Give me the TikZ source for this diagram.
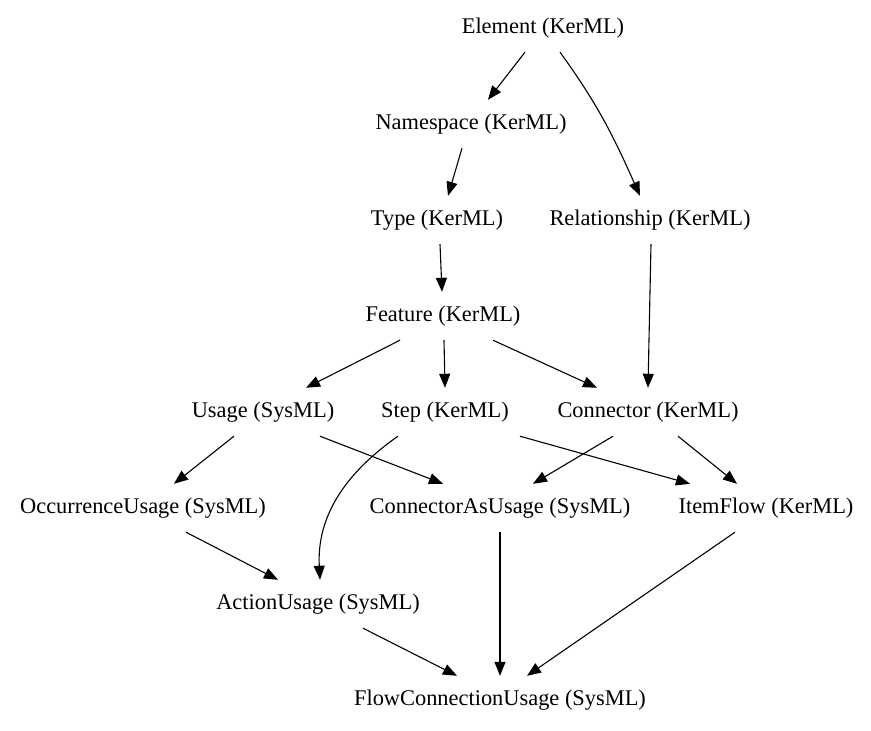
\documentclass[tikz,border=0pt]{standalone}
\usepackage{fontspec}
\setmainfont{Liberation Serif}
\usetikzlibrary{arrows.meta}
\begin{document}
\begin{tikzpicture}[x=1pt,y=-1pt,
  cls/.style={inner xsep=6pt,inner ysep=0pt,minimum height=48pt,font=\fontsize{22.4}{26}\selectfont},
  edge/.style={line width=1.1pt,-{Triangle[length=14pt,width=11pt]}}]
\useasboundingbox (0,0) rectangle (871,731);
\node[cls] (el) at (543,28) {Element (KerML)};
\node[cls] (ns) at (471,124) {Namespace (KerML)};
\node[cls] (ty) at (437,220) {Type (KerML)};
\node[cls] (rel) at (650,220) {Relationship (KerML)};
\node[cls] (fe) at (443,316) {Feature (KerML)};
\node[cls] (us) at (263,412) {Usage (SysML)};
\node[cls] (st) at (445,412) {Step (KerML)};
\node[cls] (co) at (648,412) {Connector (KerML)};
\node[cls] (oc) at (143,508) {OccurrenceUsage (SysML)};
\node[cls] (cau) at (500,508) {ConnectorAsUsage (SysML)};
\node[cls] (itf) at (766,508) {ItemFlow (KerML)};
\node[cls] (au) at (318,604) {ActionUsage (SysML)};
\node[cls] (fcu) at (500,700) {FlowConnectionUsage (SysML)};

\draw[edge] (el.south -| 525,0) -- (ns.north -| 488,0);
\draw[edge] (el.south -| 560,0) to[out=-54,in=114] (rel.north -| 640,0);
\draw[edge] (ns.south -| 462,0) -- (ty.north -| 448,0);
\draw[edge] (ty.south -| 440,0) -- (fe.north -| 442,0);
\draw[edge] (rel.south -| 651,0) -- (co.north -| 648,0);
\draw[edge] (fe.south -| 400,0) -- (us.north -| 306,0);
\draw[edge] (fe.south -| 444,0) -- (st.north -| 445,0);
\draw[edge] (fe.south -| 493,0) -- (co.north -| 597,0);
\draw[edge] (us.south -| 234,0) -- (oc.north -| 174,0);
\draw[edge] (us.south -| 320,0) -- (cau.north -| 443,0);
\draw[edge] (st.south -| 398,0) to[out=-145,in=93] (au.north -| 320,0);
\draw[edge] (st.south -| 520,0) -- (itf.north -| 690,0);
\draw[edge] (co.south -| 613,0) -- (cau.north -| 533,0);
\draw[edge] (co.south -| 678,0) -- (itf.north -| 737,0);
\draw[edge] (oc.south -| 186,0) -- (au.north -| 278,0);
\draw[edge] (cau.south -| 500,0) -- (fcu.north -| 500,0);
\draw[edge] (itf.south -| 735,0) -- (fcu.north -| 527,0);
\draw[edge] (au.south -| 363,0) -- (fcu.north -| 457,0);
\end{tikzpicture}
\end{document}
